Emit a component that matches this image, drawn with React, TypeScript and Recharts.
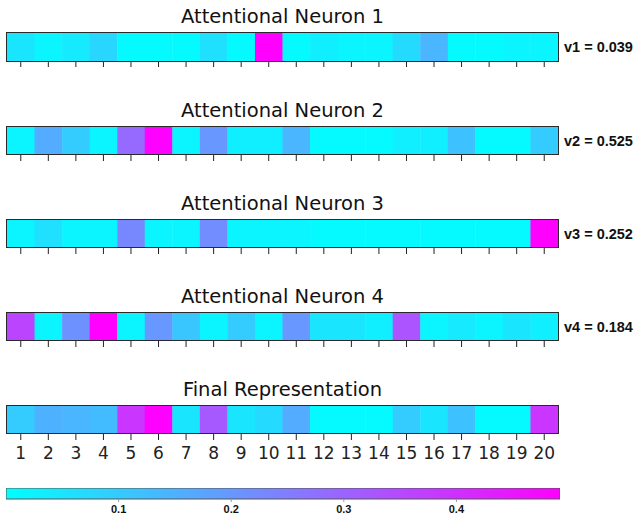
import React from 'react';
import { BarChart, Bar, XAxis, YAxis, Cell } from 'recharts';

const positions = ['1','2','3','4','5','6','7','8','9','10','11','12','13','14','15','16','17','18','19','20'];
const neuron1 = [0.05,0.02,0.04,0.08,0.01,0.01,0.01,0.06,0.01,0.49,0.01,0.03,0.02,0.02,0.07,0.14,0.01,0.01,0.02,0.02];
const neuron2 = [0.02,0.16,0.1,0.02,0.29,0.49,0.02,0.2,0.03,0.03,0.14,0.01,0.01,0.01,0.03,0.03,0.12,0.01,0.01,0.1];
const neuron3 = [0.02,0.06,0.02,0.02,0.23,0.02,0.02,0.22,0.02,0.02,0.02,0.01,0.01,0.01,0.01,0.01,0.01,0.01,0.01,0.49];
const neuron4 = [0.36,0.02,0.21,0.49,0.02,0.2,0.11,0.02,0.1,0.02,0.2,0.05,0.05,0.03,0.33,0.02,0.04,0.02,0.05,0.03];
const finalRep = [0.1,0.15,0.14,0.13,0.39,0.49,0.05,0.32,0.05,0.07,0.16,0.01,0.01,0.01,0.1,0.05,0.12,0.01,0.01,0.39];
const titles = ['Attentional Neuron 1','Attentional Neuron 2','Attentional Neuron 3','Attentional Neuron 4','Final Representation'];
const vLabels = ['v1 = 0.039','v2 = 0.525','v3 = 0.252','v4 = 0.184',''];
const colorbarTicks = [0.1, 0.2, 0.3, 0.4];
const vmin = 0;
const vmax = 0.492;

const rows = [neuron1, neuron2, neuron3, neuron4, finalRep];

function cool(v: number): string {
  let t = (v - vmin) / (vmax - vmin);
  t = Math.max(0, Math.min(1, t));
  const r = Math.round(255 * t);
  const g = Math.round(255 * (1 - t));
  return `rgb(${r},${g},255)`;
}

const STRIP_TOPS = [33, 126.5, 219.5, 312.5, 405.5];
const STRIP_H = 28;
const LEFT = 7;
const RIGHT = 82;
const PLOT_W = 640 - LEFT - RIGHT;
const PAD = 3;
const BORDER = '#2a2a2a';
const BW = 1.5;

function Row({ values, top, showLabels }: { values: number[]; top: number; showLabels: boolean }) {
  const data = positions.map((p, i) => ({ pos: p, value: values[i], full: 1 }));
  const h = PAD + STRIP_H + 32;
  return (
    <>
      <div style={{ position: 'absolute', left: 0, top: top - PAD, width: 640, height: h }}>
        <BarChart
          width={640}
          height={h}
          data={data}
          margin={{ top: PAD, right: RIGHT, bottom: 0, left: LEFT }}
          barCategoryGap={0}
          barGap={0}
        >
          <XAxis
            dataKey="pos"
            height={32}
            axisLine={false}
            tickLine={{ stroke: '#222', strokeWidth: 1 }}
            tickSize={6}
            tickMargin={7}
            interval={0}
            tick={showLabels ? { fill: '#222', fontSize: 17, fontFamily: 'DejaVu Sans' } : () => <g />}
          />
          <YAxis hide domain={[0, 1]} />
          <Bar dataKey="full" isAnimationActive={false}>
            {data.map((d, i) => (
              <Cell key={i} fill={cool(d.value)} stroke="none" />
            ))}
          </Bar>
        </BarChart>
      </div>
      <div
        style={{
          position: 'absolute',
          left: LEFT - BW / 2,
          top: top - BW / 2,
          width: PLOT_W + BW,
          height: STRIP_H + BW,
          boxSizing: 'border-box',
          border: `${BW}px solid ${BORDER}`,
          pointerEvents: 'none',
        }}
      />
    </>
  );
}

function Colorbar() {
  const data = [{ name: 'cbar', max: vmax }];
  return (
    <div style={{ position: 'absolute', left: 0, top: 488, width: 640, height: 30 }}>
      <BarChart
        width={640}
        height={30}
        data={data}
        layout="vertical"
        margin={{ top: 0, right: 80, bottom: 0, left: 6 }}
        barCategoryGap={0}
      >
        <defs>
          <linearGradient id="coolGrad" x1="0" y1="0" x2="1" y2="0">
            <stop offset="0%" stopColor="rgb(0,255,255)" />
            <stop offset="100%" stopColor="rgb(255,0,255)" />
          </linearGradient>
        </defs>
        <XAxis
          type="number"
          domain={[vmin, vmax]}
          ticks={colorbarTicks}
          height={19}
          axisLine={false}
          tickLine={{ stroke: '#999' }}
          tickSize={3}
          tickMargin={3}
          tick={{ fill: '#111', fontSize: 11, fontWeight: 'bold', fontFamily: 'Liberation Sans' }}
          tickFormatter={(v: number) => v.toFixed(1)}
          allowDataOverflow
        />
        <YAxis type="category" dataKey="name" hide />
        <Bar dataKey="max" fill="url(#coolGrad)" stroke="#555" strokeWidth={1} isAnimationActive={false} />
      </BarChart>
    </div>
  );
}

export default function App() {
  return (
    <div style={{ position: 'absolute', left: 0, top: 0, width: 640, height: 518, background: '#fff', overflow: 'hidden' }}>
      {rows.map((vals, i) => (
        <React.Fragment key={i}>
          <div
            style={{
              position: 'absolute',
              left: LEFT,
              width: PLOT_W,
              top: STRIP_TOPS[i] - 28,
              height: 24,
              lineHeight: '24px',
              textAlign: 'center',
              fontFamily: 'DejaVu Sans',
              fontSize: 19.5,
              color: '#111',
            }}
          >
            {titles[i]}
          </div>
          <Row values={vals} top={STRIP_TOPS[i]} showLabels={i === rows.length - 1} />
          {vLabels[i] && (
            <div
              style={{
                position: 'absolute',
                left: 564,
                top: STRIP_TOPS[i] + STRIP_H / 2 - 10,
                height: 20,
                lineHeight: '20px',
                fontFamily: 'Liberation Sans',
                fontWeight: 'bold',
                fontSize: 14.5,
                color: '#111',
                whiteSpace: 'nowrap',
              }}
            >
              {vLabels[i]}
            </div>
          )}
        </React.Fragment>
      ))}
      <Colorbar />
    </div>
  );
}
